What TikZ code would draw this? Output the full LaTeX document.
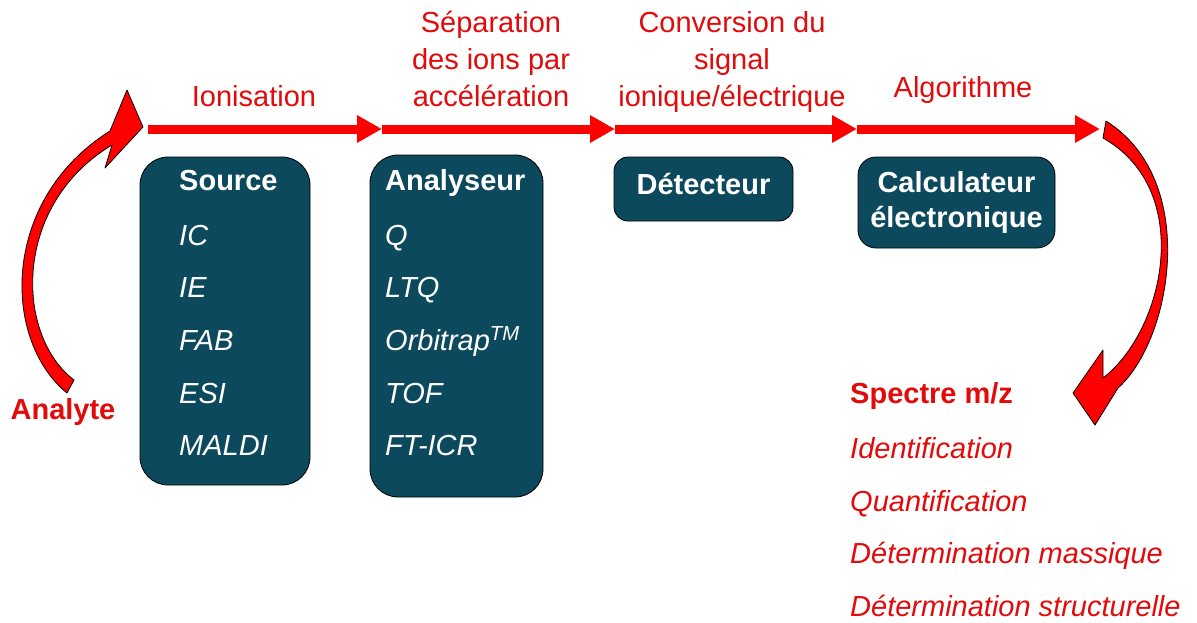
\documentclass[tikz,border=0pt]{standalone}
\usepackage{fontspec}
\setmainfont{Liberation Sans}
\usetikzlibrary{arrows.meta}

\definecolor{flowred}{RGB}{255,0,0}
\definecolor{textred}{RGB}{226,10,10}
\definecolor{boxteal}{RGB}{12,73,93}

\tikzset{
  bigfont/.style={font=\fontsize{29}{37}\selectfont},
  ionbox/.style={draw=black, line width=0.8pt, fill=boxteal, rounded corners=#1, inner sep=0pt},
  boxhead/.style={bigfont, text=white, font=\fontsize{29}{37}\selectfont\bfseries, inner sep=0pt},
  boxitem/.style={text=white, font=\fontsize{29}{37}\selectfont\itshape, inner sep=0pt, anchor=base west},
  steplabel/.style={bigfont, text=textred, align=center, inner sep=0pt, anchor=base},
  resultitem/.style={text=textred, font=\fontsize{29}{37}\selectfont\itshape, inner sep=0pt, anchor=base west},
  flowarrow/.style={flowred, line width=9pt, -{Triangle[length=25pt,width=26pt]}},
  bendarrow/.style={draw=black, line width=0.8pt, fill=flowred, line join=round}
}

\begin{document}
\begin{tikzpicture}[x=1pt, y=-1pt]

\useasboundingbox (0,0) rectangle (1197,622);

% Main flow line (four stages)
\coordinate (a0) at (148,129);
\coordinate (a1) at (382,129);
\coordinate (a2) at (615,129);
\coordinate (a3) at (857,129);
\coordinate (a4) at (1100,129);
\foreach \s/\e in {a0/a1,a1/a2,a2/a3,a3/a4}
  \draw[flowarrow] (\s) -- (\e);

% Stage labels above the arrows
\node[steplabel] (ionis) at (254,106) {Ionisation};
\node[steplabel] (separ) at (491,106) {Séparation\\des ions par\\accélération};
\node[steplabel] (conver) at (732,106) {Conversion du\\signal\\ionique/électrique};
\node[steplabel] (algo) at (963,97) {Algorithme};

% Source box
\node[ionbox=28pt, minimum width=170pt, minimum height=328pt] (source) at (225,321) {};
\node[boxhead, anchor=base west] (sourcetitle) at (179,190) {Source};
\foreach \y/\name in {245/IC, 297/IE, 350/FAB, 403/ESI, 455/MALDI}
  \node[boxitem] (src-\y) at (179,\y) {\name};

% Analyser box
\node[ionbox=28pt, minimum width=173pt, minimum height=342pt] (analyser) at (456.5,326) {};
\node[boxhead, anchor=base west] (analysertitle) at (385,190) {Analyseur};
\foreach \y/\name in {245/Q, 297/LTQ, 350/{Orbitrap\textsuperscript{TM}}, 403/TOF, 455/FT-ICR}
  \node[boxitem] (ana-\y) at (385,\y) {\name};

% Detector box
\node[ionbox=14pt, minimum width=179pt, minimum height=64pt] (detector) at (703.5,189) {};
\node[boxhead, anchor=base] (detectortext) at (703.5,194) {Détecteur};

% Computer box
\node[ionbox=18pt, minimum width=197pt, minimum height=91pt] (computer) at (956.5,202.5) {};
\node[boxhead, anchor=base] (computertop) at (956.5,192) {Calculateur};
\node[boxhead, anchor=base] (computerbot) at (956.5,227) {électronique};

% Analyte going in
\draw[bendarrow] (143,127) -- (105,168) -- (112,145)
  .. controls (12,205) and (15,335) .. (74,380) -- (67,393)
  .. controls (2,340) and (0,200) .. (110,131) -- (127,90) -- cycle;
\node[text=textred, font=\fontsize{29}{37}\selectfont\bfseries, inner sep=0pt, anchor=base] (analyte) at (63,419) {Analyte};

% Spectrum coming out
\draw[bendarrow] (1073,393) -- (1103,350) -- (1103,378)
  .. controls (1165,330) and (1195,190) .. (1103,138) -- (1106,121)
  .. controls (1200,180) and (1172,340) .. (1118,388) -- (1095,425) -- cycle;
\node[text=textred, font=\fontsize{29}{37}\selectfont\bfseries, inner sep=0pt, anchor=base west] (spectre) at (850,403) {Spectre m/z};
\foreach \y/\name in {458/Identification, 511/Quantification, 563/Détermination massique, 616/Détermination structurelle}
  \node[resultitem] (res-\y) at (850,\y) {\name};

\end{tikzpicture}
\end{document}
